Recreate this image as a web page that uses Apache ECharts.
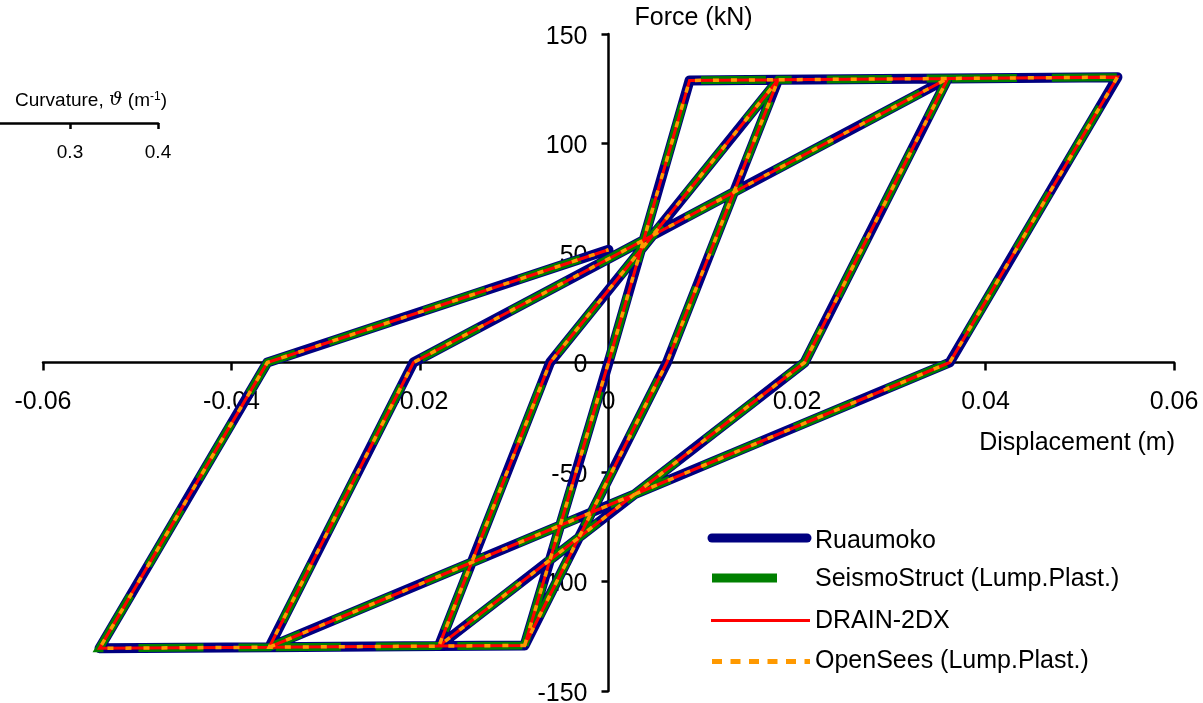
<!DOCTYPE html>
<html><head><meta charset="utf-8">
<script src="https://cdn.jsdelivr.net/npm/echarts@6/dist/echarts.min.js"></script>
<style>html,body{margin:0;padding:0;background:#fff}#c{width:1203px;height:703px}</style>
</head><body><div id="c"></div>
<script>
// ---- data ----
const seriesNames = ['Ruaumoko', 'SeismoStruct (Lump.Plast.)', 'DRAIN-2DX', 'OpenSees (Lump.Plast.)'];
// cyclic force-displacement path (m, kN)
const displacement = [-0.0089, 0, 0.0086, 0.018, 0.0062, -0.0089, -0.018, -0.0062, 0.018, 0.036, 0.0208, -0.018, -0.036, -0.0207, 0.036, 0.054, 0.0362, -0.036, -0.054, -0.0362, 0];
const force = [-129.2, 0, 128.8, 129.1, 0, -129.2, -129.5, 0, 129.1, 129.7, 0, -129.5, -130, 0, 129.7, 130.3, 0, -130, -130.5, 0, 51.5];
const xTickValues = [-0.06, -0.04, -0.02, 0, 0.02, 0.04, 0.06];
const yTickValues = [-150, -100, -50, 0, 50, 100, 150];
const curvatureTickValues = [0.2, 0.3, 0.4];

const FONT = 'Liberation Sans, Arial, sans-serif';
const path = displacement.map((d, i) => [d, force[i]]);

const styles = [
  { color: '#000080', width: 10, type: 'solid', cap: 'round', join: 'round' },
  { color: '#008000', width: 8, type: [65, 35], cap: 'butt', join: 'miter' },
  { color: '#FF0000', width: 3, type: 'solid', cap: 'butt', join: 'miter' },
  { color: '#FF9900', width: 3.5, type: [6, 12], cap: 'butt', join: 'miter' }
];
const legendIcons = [
  { x1: 712, x2: 807, y: 538, color: '#000080', width: 9, dash: null, cap: 'round' },
  { x1: 712, x2: 777, y: 578, color: '#008000', width: 9, dash: null, cap: 'butt' },
  { x1: 711, x2: 810, y: 620.5, color: '#FF0000', width: 3, dash: null, cap: 'butt' },
  { x1: 712, x2: 810, y: 661.5, color: '#FF9900', width: 5, dash: [10, 8.5], cap: 'butt' }
];
const legendTextY = [541, 579, 621, 661];

const GRID = { left: 43, right: 29, top: 34, bottom: 12 };
const W = 1203, H = 703;
const plotW = W - GRID.left - GRID.right, plotH = H - GRID.top - GRID.bottom;
// offsets to put the axes through the origin (x = 0, y = 0 in the middle)
const xAxisOffset = -plotH * (0 - yTickValues[0]) / (yTickValues[yTickValues.length - 1] - yTickValues[0]);
const yAxisOffset = -plotW * (0 - xTickValues[0]) / (xTickValues[xTickValues.length - 1] - xTickValues[0]);

const graphics = [
  {
    type: 'text', left: 15, top: 91, z: 10,
    style: {
      text: 'Curvature, {th|ϑ} (m{sup|-1})',
      font: '19px ' + FONT, fill: '#000',
      rich: {
        th: { fontSize: 19, fontStyle: 'italic', fontFamily: 'DejaVu Serif, serif', fill: '#000' },
        sup: { fontSize: 12, fontFamily: FONT, verticalAlign: 'top', fill: '#000' }
      }
    }
  },
  {
    type: 'text', z: 10,
    style: { text: 'Displacement (m)', x: 1175, y: 443, align: 'right', verticalAlign: 'middle', font: '25px ' + FONT, fill: '#000' }
  }
];
legendIcons.forEach((ic, i) => {
  graphics.push({
    type: 'line', z: 10,
    shape: { x1: ic.x1, y1: ic.y, x2: ic.x2, y2: ic.y },
    style: { stroke: ic.color, lineWidth: ic.width, lineDash: ic.dash, lineCap: ic.cap }
  });
  graphics.push({
    type: 'text', z: 10,
    style: { text: seriesNames[i], x: 815, y: legendTextY[i], align: 'left', verticalAlign: 'middle', font: '25px ' + FONT, fill: '#000' }
  });
});

const chart = echarts.init(document.getElementById('c'), null, { renderer: 'canvas' });
chart.setOption({
  animation: false,
  backgroundColor: '#fff',
  grid: [
    Object.assign({ containLabel: false, outerBoundsMode: 'none' }, GRID),
    { left: -18, right: 1045, top: 0, bottom: 580, containLabel: false, outerBoundsMode: 'none' }
  ],
  xAxis: [
    {
      type: 'value', gridIndex: 0, position: 'bottom', offset: xAxisOffset,
      min: -0.06, max: 0.06, interval: 0.02,
      axisLine: { onZero: false, lineStyle: { color: '#000', width: 2.5 } },
      axisTick: { show: true, length: 8, lineStyle: { color: '#000', width: 2.5 } },
      splitLine: { show: false },
      axisLabel: { fontSize: 25, fontFamily: FONT, color: '#000', margin: 27 }
    },
    {
      type: 'value', gridIndex: 1, position: 'bottom',
      min: 0.2, max: 0.4, interval: 0.1,
      axisLine: { onZero: false, lineStyle: { color: '#000', width: 2.5 } },
      axisTick: { show: true, length: 6, lineStyle: { color: '#000', width: 2.5 } },
      splitLine: { show: false },
      axisLabel: { fontSize: 19, fontFamily: FONT, color: '#000', margin: 20 }
    }
  ],
  yAxis: [
    {
      type: 'value', gridIndex: 0, position: 'left', offset: yAxisOffset,
      min: -150, max: 150, interval: 50,
      axisLine: { onZero: false, lineStyle: { color: '#000', width: 2.5 } },
      axisTick: { show: true, length: 7, lineStyle: { color: '#000', width: 2.5 } },
      splitLine: { show: false },
      axisLabel: {
        fontSize: 25, fontFamily: FONT, color: '#000', margin: 21,
        formatter: '{v|{value}}',
        rich: { v: { fontSize: 25, fontFamily: FONT, color: '#000', padding: [6, 0, 0, 0] } }
      },
      name: 'Force (kN)', nameLocation: 'end', nameGap: 16,
      nameTextStyle: { fontSize: 25, fontFamily: FONT, color: '#000', align: 'left', verticalAlign: 'middle', padding: [0, 0, 0, 26] }
    },
    { type: 'value', gridIndex: 1, show: false, min: 0, max: 1 }
  ],
  graphic: graphics,
  series: seriesNames.map((name, i) => ({
    name, type: 'line', xAxisIndex: 0, yAxisIndex: 0,
    data: path, symbol: 'none', showSymbol: false, smooth: false,
    lineStyle: styles[i], z: 2 + i
  }))
});
</script></body></html>
